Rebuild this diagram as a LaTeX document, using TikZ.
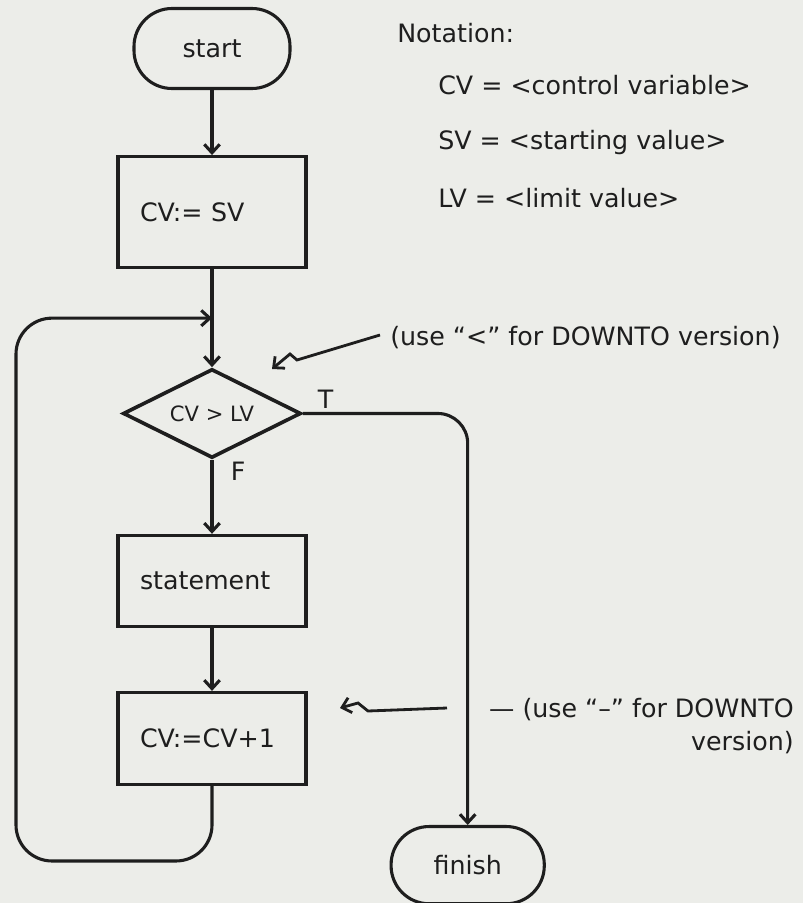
\documentclass[tikz,border=0pt]{standalone}
\usepackage{fontspec}
\setmainfont{DejaVu Sans}
\usetikzlibrary{shapes.geometric, arrows.meta, positioning, calc}
\definecolor{paper}{RGB}{236,237,233}
\definecolor{ink}{RGB}{30,30,30}
\newcommand{\handfont}{\fontsize{18}{23}\selectfont}

\begin{document}
\begin{tikzpicture}[
    every node/.style={font=\handfont, text=ink},
    box/.style={rectangle, draw=ink, line width=2.2pt, text width=3.6cm, inner xsep=0.55cm, align=left},
    term/.style={rectangle, draw=ink, line width=2.2pt, rounded corners=0.95cm, minimum width=3.9cm, minimum height=2cm},
    test/.style={diamond, draw=ink, line width=2.6pt, aspect=2, inner sep=0pt, minimum width=4.45cm, minimum height=2.225cm, font=\fontsize{15}{18}\selectfont},
    note/.style={anchor=west, inner sep=0pt},
    arrow/.style={-{Straight Barb[length=6pt, width=11pt]}, draw=ink, line width=2.2pt}
]
\fill[paper] (0,0) rectangle (20.075,-22.575);
\useasboundingbox (0,0) rectangle (20.075,-22.575);

% main column
\node[term] (start) at (5.3,-1.2125) {start};
\node[box, minimum height=2.775cm, below=1.625cm of start] (init) {CV:= SV};
\node[test, below=2.45cm of init] (check) {CV > LV};
\node[box, minimum height=2.275cm, below=1.85cm of check] (body) {statement};
\node[box, minimum height=2.3cm, below=1.575cm of body] (incr) {CV:=CV+1};
\node[term, minimum width=3.83cm, minimum height=1.93cm, below right=0.975cm and 2.05cm of incr] (finish) {finish};

\coordinate (merge) at ($(init.south)!0.5!(check.north)$);
\coordinate (loopturn) at ($(incr.south)+(0,-1.875)$);
\coordinate (loopside) at (0.4,-14);

\draw[arrow] (start) -- (init);
\draw[arrow] (init) -- (check);
\draw[arrow] (check) -- node[right, xshift=9pt, pos=0.15] (flab) {F} (body);
\draw[arrow] (body) -- (incr);
\draw[arrow, rounded corners=0.9cm] (incr.south) -- (loopturn) -| (loopside) |- (merge);
\draw[arrow, rounded corners=0.75cm] (check.east) -| (finish.north);
\node[above right=0cm and 0.25cm of check.east] (tlab) {T};

% notation
\node[note] (ntitle) at (9.925,-0.825) {Notation:};
\node[note] (ncv) at ($(ntitle.west)+(1.025,-1.3)$) {CV = <control variable>};
\node[note] (nsv) at ($(ncv.west)+(0,-1.45)$) {SV = <starting value>};
\node[note] (nlv) at ($(nsv.west)+(0,-1.375)$) {LV = <limit value>};

% remarks
\node[note] (hint1) at (9.75,-8.45) {(use “<” for DOWNTO version)};
\coordinate (h1tail) at ($(hint1.west)+(-0.25,0.075)$);
\coordinate (h1a) at (7.425,-9.0);
\coordinate (h1b) at (7.25,-8.85);
\coordinate (h1tip) at (6.8,-9.225);
\draw[arrow, line width=2pt] (h1tail) -- (h1a) -- (h1b) -- (h1tip);

\node[align=right, anchor=east, inner sep=0pt] (hint2) at (19.85,-18.15) {— (use “–” for DOWNTO\\version)};
\coordinate (h2tail) at (11.175,-17.7);
\coordinate (h2a) at (9.2,-17.775);
\coordinate (h2b) at (8.95,-17.575);
\coordinate (h2tip) at (8.5,-17.7);
\draw[arrow, line width=2pt] (h2tail) -- (h2a) -- (h2b) -- (h2tip);
\end{tikzpicture}
\end{document}
